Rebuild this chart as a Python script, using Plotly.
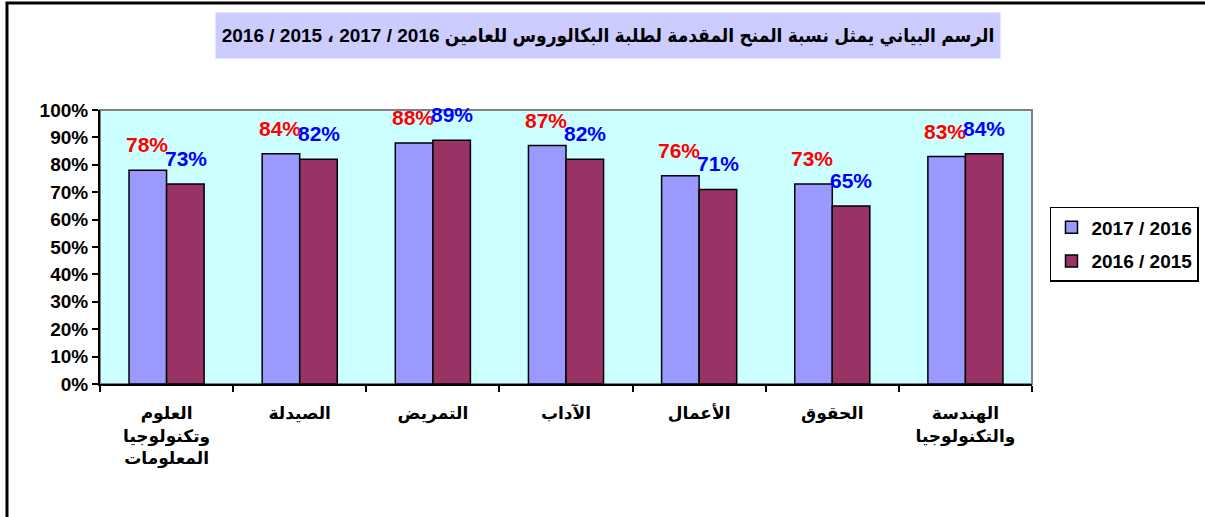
import plotly.graph_objects as go

# ---- data ----
categories = ["العلوم وتكنولوجيا المعلومات", "الصيدلة", "التمريض", "الآداب",
              "الأعمال", "الحقوق", "الهندسة والتكنولوجيا"]
tick_labels = ["العلوم<br>وتكنولوجيا<br>المعلومات", "الصيدلة", "التمريض", "الآداب",
               "الأعمال", "الحقوق", "الهندسة<br>والتكنولوجيا"]
series_names = ["2017 / 2016", "2016 / 2015"]
values_2017_2016 = [0.78, 0.84, 0.88, 0.87, 0.76, 0.73, 0.83]
values_2016_2015 = [0.73, 0.82, 0.89, 0.82, 0.71, 0.65, 0.84]
title_text = "الرسم البياني يمثل نسبة المنح المقدمة لطلبة البكالوروس للعامين 2016 / 2017 ، 2015 / 2016"

FONT = "Arial, 'Liberation Sans', 'DejaVu Sans', sans-serif"
TITLE_FONT = "Arial, 'Liberation Sans', 'DejaVu Sans Condensed', 'DejaVu Sans', sans-serif"
bar_colors = ["#9999FF", "#993366"]
label_colors = ["#FF0000", "#0000FF"]

fig = go.Figure()
for i, (name, vals, col) in enumerate(zip(series_names, [values_2017_2016, values_2016_2015], bar_colors)):
    fig.add_trace(go.Bar(
        x=categories, y=vals, name=name, legendgroup=f"g{i}",
        marker=dict(color=col, line=dict(color="black", width=1.5)),
        hoverinfo="skip",
    ))

# data labels
annotations = []
for vals, lc, shift in zip([values_2017_2016, values_2016_2015], label_colors, [-20, 19]):
    for c, v in zip(categories, vals):
        annotations.append(dict(
            x=c, y=v, xref="x", yref="y", text=f"{round(v*100)}%",
            showarrow=False, xshift=shift, yshift=12, yanchor="bottom",
            font=dict(family=FONT, size=21, color=lc, weight="bold"),
        ))

# title box
annotations.append(dict(
    x=0.545, y=1.272, xref="paper", yref="paper", text=title_text,
    showarrow=False, xanchor="center", yanchor="middle",
    bgcolor="#CCCCFF", width=784, height=45, borderpad=0,
    font=dict(family=TITLE_FONT, size=19, color="black", weight="bold"),
))

fig.update_layout(
    width=1205, height=517,
    margin=dict(l=100, r=173, t=110, b=133, autoexpand=False),
    paper_bgcolor="white", plot_bgcolor="#CCFFFF",
    barmode="group", bargap=0.436, bargroupgap=0,
    font=dict(family=FONT, color="black"),
    annotations=annotations,
    legend=dict(
        x=1.0193, y=0.646, xanchor="left", yanchor="top",
        bordercolor="black", borderwidth=1.5, bgcolor="white",
        font=dict(family=FONT, size=19, color="black", weight="bold"),
        itemwidth=30, tracegroupgap=6,
    ),
    xaxis=dict(
        type="category", tickmode="array", tickvals=categories, ticktext=tick_labels,
        showline=True, linecolor="black", linewidth=2,
        ticks="outside", tickson="boundaries", ticklen=6, tickcolor="black", tickwidth=1.5,
        showgrid=False, automargin=False,
        tickfont=dict(family=FONT, size=17, color="black", weight="bold"),
        ticklabelstandoff=13,
    ),
    yaxis=dict(
        range=[0, 1], dtick=0.1, tickformat=".0%",
        showline=True, linecolor="black", linewidth=2,
        ticks="outside", ticklen=6, tickcolor="black", tickwidth=1.5,
        showgrid=False, zeroline=False, automargin=False,
        tickfont=dict(family=FONT, size=19, color="black", weight="bold"),
    ),
    shapes=[
        # plot area frame (gray top/right)
        dict(type="rect", xref="paper", yref="paper", x0=0, x1=1, y0=0, y1=1,
             line=dict(color="#808080", width=2), layer="below"),
        # outer chart border
        dict(type="rect", xref="paper", yref="paper", x0=-0.0998, x1=1.3,
             y0=-1.0, y1=1.3905, line=dict(color="black", width=3)),
    ],
)

fig.write_html("out.html", config={"displayModeBar": False},
               post_script="document.body.style.margin='0';")
